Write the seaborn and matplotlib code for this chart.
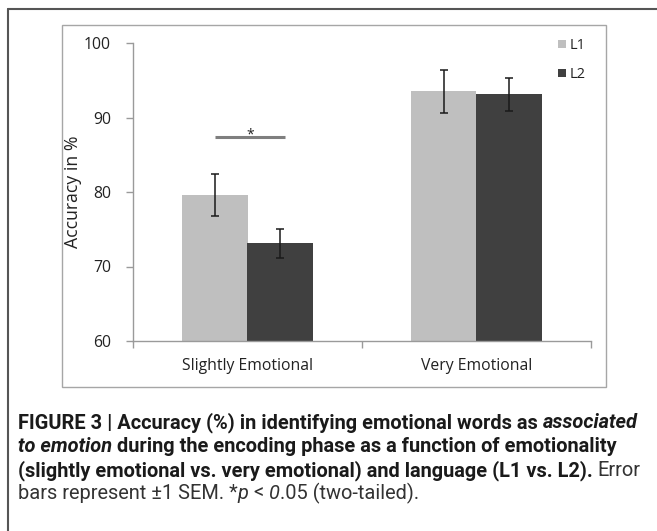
import matplotlib
matplotlib.use("Agg")
import matplotlib.pyplot as plt
from matplotlib.patches import Rectangle
from matplotlib.lines import Line2D
import pandas as pd
import seaborn as sns

# data
conditions = ["Slightly Emotional", "Very Emotional"]
languages = ["L1", "L2"]
accuracy_l1 = [79.6, 93.5]
accuracy_l2 = [73.1, 93.1]
sem_l1 = [2.8, 2.9]
sem_l2 = [2.0, 2.2]
yticks = [60, 70, 80, 90, 100]
colors = ["#bfbfbf", "#404040"]

df = pd.DataFrame({
    "condition": conditions * 2,
    "language": ["L1"] * 2 + ["L2"] * 2,
    "accuracy": accuracy_l1 + accuracy_l2,
    "sem": sem_l1 + sem_l2,
})

sns.set_theme(style="white")
plt.rcParams["font.family"] = ["Open Sans", "DejaVu Sans"]

W, H = 657, 531
fig = plt.figure(figsize=(W / 100, H / 100), dpi=100)
ax = fig.add_axes([133 / W, 1 - 341 / H, (591 - 133) / W, (341 - 43) / H])

sns.barplot(data=df, x="condition", y="accuracy", hue="language",
            order=conditions, hue_order=languages, palette=colors,
            width=0.57, errorbar=None, ax=ax, saturation=1, linewidth=0)

# error bars at bar centres, same order as the patches (hue-major)
bars = [p for p in ax.patches if p.get_height() > 0][:4]
for p, (_, row) in zip(bars, df.iterrows()):
    xc = p.get_x() + p.get_width() / 2
    ax.errorbar(xc, row["accuracy"], yerr=row["sem"], fmt="none",
                ecolor="#1a1a1a", elinewidth=1.1, capsize=3, capthick=1.1)

# significance marker
ax.plot([-0.14, 0.165], [87.4, 87.4], color="#7f7f7f", lw=2.2, solid_capstyle="butt")
ax.text(0.012, 86.7, "*", ha="center", va="bottom", fontsize=10, color="#222222")

ax.set_ylim(60, 100)
ax.set_xlim(-0.5, 1.5)
ax.set_yticks(yticks)
ax.set_xticks([0, 1])
ax.set_xticklabels(conditions)
ax.set_xticks([-0.5, 0.5, 1.5], minor=True)
ax.tick_params(axis="x", which="major", length=0, pad=12, labelsize=11.3, labelcolor="#222222")
ax.tick_params(axis="x", which="minor", length=5, width=1, color="#9a9a9a", direction="out", bottom=True)
ax.tick_params(axis="y", length=5, width=1, color="#9a9a9a", direction="out", left=True,
               labelsize=11.3, labelcolor="#222222", pad=11)
ax.set_xlabel("")
ax.set_ylabel("Accuracy in %", fontsize=12.7, color="#222222", labelpad=1)
sns.despine(ax=ax)
for s in ["left", "bottom"]:
    ax.spines[s].set_color("#9a9a9a")
    ax.spines[s].set_linewidth(1)

leg = ax.legend(loc="upper left", bbox_to_anchor=(0.9, 1.06), frameon=False,
                handlelength=0.55, handleheight=0.55, handletextpad=0.25,
                labelspacing=0.95, fontsize=10.5)
for t in leg.get_texts():
    t.set_color("#222222")

# frames
fig.add_artist(Rectangle((62 / W, 1 - 387 / H), (606 - 62) / W, (387 - 25) / H,
                         transform=fig.transFigure, fill=False, ec="#a6a6a6", lw=1))
fig.add_artist(Line2D([8 / W, 1], [1 - 9 / H, 1 - 9 / H], transform=fig.transFigure,
                      color="#555555", lw=1.5))
fig.add_artist(Line2D([8 / W, 8 / W], [0, 1 - 9 / H], transform=fig.transFigure,
                      color="#555555", lw=1.5))

# caption with mixed styles
cap_font = ["Roboto", "DejaVu Sans"]
cap_size = 14.4
lines = [
    [("FIGURE 3 | Accuracy (%) in identifying emotional words as ", "bold", "normal"),
     ("associated", "bold", "italic")],
    [("to emotion", "bold", "italic"),
     (" during the encoding phase as a function of emotionality", "bold", "normal")],
    [("(slightly emotional vs. very emotional) and language (L1 vs. L2).", "bold", "normal"),
     (" Error", "normal", "normal")],
    [("bars represent \u00b11 SEM. *", "normal", "normal"), ("p", "normal", "italic"),
     (" < ", "normal", "normal"), ("0", "normal", "italic"), (".05 (two-tailed).", "normal", "normal")],
]
baselines = [428, 452, 476, 499]
renderer = fig.canvas.get_renderer()


def text_width(s, wt, st):
    t = fig.text(0, 0, s, fontsize=cap_size, fontweight=wt, fontstyle=st, family=cap_font)
    w = t.get_window_extent(renderer=renderer).width
    t.remove()
    return w


for segs, yb in zip(lines, baselines):
    x = 18
    for txt, wt, st in segs:
        lead = len(txt) - len(txt.lstrip(" "))
        trail = len(txt) - len(txt.rstrip(" "))
        space = text_width("a a", wt, st) - text_width("aa", wt, st)
        core = txt.strip(" ")
        x += lead * space
        t = fig.text(x / W, 1 - yb / H, core, fontsize=cap_size, fontweight=wt, fontstyle=st,
                     family=cap_font, color="#333333" if wt == "normal" else "#1a1a1a",
                     va="baseline", ha="left")
        x += t.get_window_extent(renderer=renderer).width + trail * space

fig.savefig("out.png", dpi=100)
